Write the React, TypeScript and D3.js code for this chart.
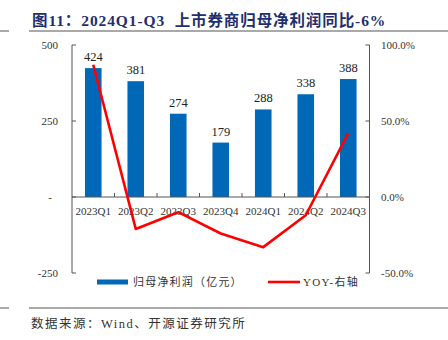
import React from "react";
import * as d3 from "d3";

const categories = ["2023Q1", "2023Q2", "2023Q3", "2023Q4", "2024Q1", "2024Q2", "2024Q3"];
const profit = [424, 381, 274, 179, 288, 338, 388];
const yoy = [87, -21, -10, -24, -33, -12, 42];
const leftTicks = [-250, 0, 250, 500];
const rightTicks = [-50, 0, 50, 100];

const W = 448, H = 340;
const L = 72, R = 369.5, T = 45, B = 273;
const serif = "'Liberation Serif', 'Times New Roman', 'Noto Sans CJK SC', serif";
const cjk = "'Liberation Serif', 'Noto Sans CJK SC', serif";

export default function App() {
  const x = d3.scaleBand<string>().domain(categories).range([L, R]).paddingInner(0.61).paddingOuter(0.305);
  const yL = d3.scaleLinear().domain([-250, 500]).range([B, T]);
  const yR = d3.scaleLinear().domain([-50, 100]).range([B, T]);
  const step = x.step();
  const cx = (c: string) => (x(c) as number) + x.bandwidth() / 2;
  const line = d3.line<number>().x((_, i) => cx(categories[i])).y((d) => yR(d));
  const y0 = yL(0);
  return (
    <svg width={W} height={H} style={{ position: "absolute", left: 0, top: 0, background: "#fff" }}>
      <text x={32} y={26} fontFamily={cjk} fontWeight="bold" fontSize={15.5} letterSpacing={0.9} fill="#1F2F6E" style={{ whiteSpace: "pre" }}>
        {"图11：2024Q1-Q3  上市券商归母净利润同比-6%"}
      </text>
      <line x1={0} x2={9} y1={31} y2={31} stroke="#8c8c8c" strokeWidth={1.5} />
      <line x1={29} x2={448} y1={31} y2={31} stroke="#8c8c8c" strokeWidth={1.5} />

      {/* bars */}
      {categories.map((c, i) => (
        <rect key={c} x={x(c)} width={x.bandwidth()} y={yL(profit[i])} height={y0 - yL(profit[i])} fill="#0068B7" />
      ))}
      {categories.map((c, i) => (
        <text key={"v" + c} x={cx(c)} y={yL(profit[i]) - 7} textAnchor="middle" fontFamily={serif} fontSize={12.5} fill="#222">
          {profit[i]}
        </text>
      ))}

      {/* left axis */}
      <line x1={L} x2={L} y1={T} y2={B} stroke="#555" strokeWidth={1} />
      {leftTicks.map((t) => (
        <g key={"l" + t}>
          <line x1={L} x2={L + 4} y1={yL(t)} y2={yL(t)} stroke="#555" />
          <text x={t === 0 ? 52 : 58} y={yL(t) + 4} textAnchor="end" fontFamily={serif} fontSize={11} fill="#333">
            {t === 0 ? "-" : t}
          </text>
        </g>
      ))}
      {/* right axis */}
      <line x1={R} x2={R} y1={T} y2={B} stroke="#555" strokeWidth={1} />
      {rightTicks.map((t) => (
        <g key={"r" + t}>
          <line x1={R - 4} x2={R} y1={yR(t)} y2={yR(t)} stroke="#555" />
          <text x={381} y={yR(t) + 4} textAnchor="start" fontFamily={serif} fontSize={11} fill="#333">
            {t.toFixed(1) + "%"}
          </text>
        </g>
      ))}
      {/* x axis */}
      <line x1={L} x2={R} y1={y0} y2={y0} stroke="#555" strokeWidth={1} />
      {d3.range(1, categories.length).map((i) => (
        <line key={"xt" + i} x1={L + step * i} x2={L + step * i} y1={y0} y2={y0 - 4} stroke="#555" />
      ))}
      {categories.map((c) => (
        <text key={"x" + c} x={cx(c)} y={y0 + 18} textAnchor="middle" fontFamily={serif} fontSize={11} fill="#333">
          {c}
        </text>
      ))}

      {/* yoy line */}
      <path d={line(yoy) || ""} fill="none" stroke="#FF0000" strokeWidth={2.6} strokeLinejoin="round" />

      {/* legend */}
      <rect x={97} y={279.5} width={31} height={5} fill="#0068B7" />
      <text x={133} y={286} fontFamily={cjk} fontSize={11} letterSpacing={1.2} fill="#333">归母净利润（亿元）</text>
      <line x1={268} x2={300} y1={282} y2={282} stroke="#FF0000" strokeWidth={2.6} />
      <text x={303} y={286} fontFamily={cjk} fontSize={11} letterSpacing={1.3} fill="#333">YOY-右轴</text>

      {/* footer */}
      <line x1={0} x2={9} y1={308} y2={308} stroke="#555" strokeWidth={1} />
      <line x1={29} x2={448} y1={308} y2={308} stroke="#555" strokeWidth={1} />
      <text x={31} y={328} fontFamily={cjk} fontSize={12.5} letterSpacing={1.5} fill="#333">数据来源：Wind、开源证券研究所</text>
    </svg>
  );
}
